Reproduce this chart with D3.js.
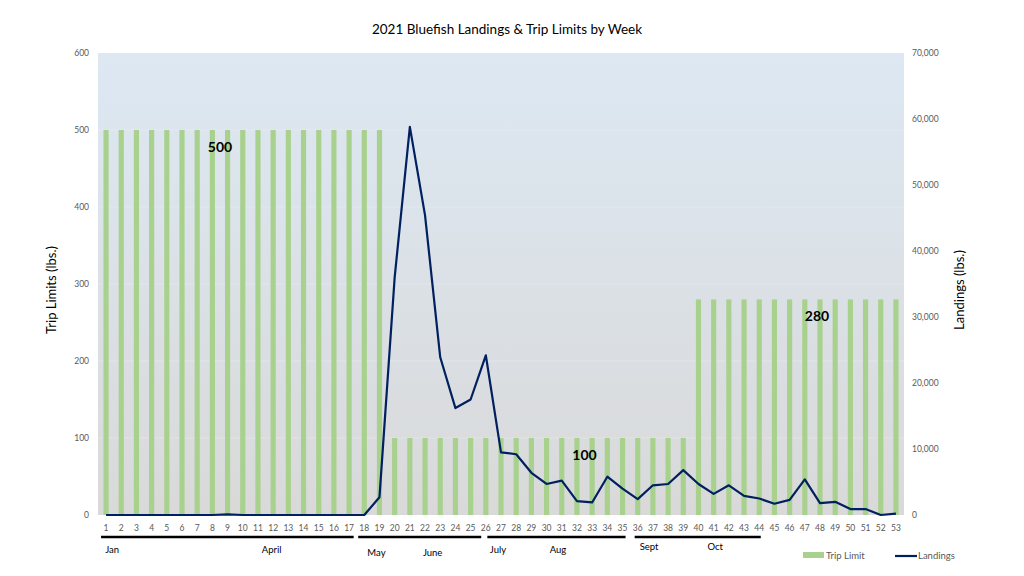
<!DOCTYPE html>
<html><head><meta charset="utf-8">
<script src="https://cdn.jsdelivr.net/npm/d3@7"></script>
<style>body{margin:0;background:#fff}svg{display:block;font-family:Lato,"Open Sans",sans-serif}</style>
</head><body><svg id="c" width="1024" height="576"></svg>
<script>
const weeks = d3.range(1, 54);
const tripLimit = [500,500,500,500,500,500,500,500,500,500,500,500,500,500,500,500,500,500,500,
  100,100,100,100,100,100,100,100,100,100,100,100,100,100,100,100,100,100,100,100,
  280,280,280,280,280,280,280,280,280,280,280,280,280,280];
const landings = [0,0,0,0,0,0,0,0,100,0,0,0,0,0,0,0,0,0,2700,
  36000,58800,45400,23900,16200,17500,24200,9500,9200,6400,4700,5200,2100,1900,5800,4000,2400,4500,4700,6800,
  4700,3200,4500,2900,2500,1700,2300,5400,1800,2000,900,900,0,200];
const leftTicks = [0,100,200,300,400,500,600];
const rightTicks = [0,10000,20000,30000,40000,50000,60000,70000];
const annotations = [{week:8.5, value:500, text:"500"},{week:32.5, value:100, text:"100"},{week:47.8, value:280, text:"280"}];
const monthLabels = ["Jan","April","May","June","July","Aug","Sept","Oct"];
const monthWeeks = [1.4,11.9,18.8,22.5,26.8,30.75,36.75,41.1];
const monthRows = [0,0,1,1,0,0,-1,-1];
const monthBars = [[0.67,17.3],[17.6,25.7],[26.1,35.2],[35.8,44.1]];

const svg = d3.select("#c");
const L=98,R=904,T=53,B=515;
const x = d3.scaleBand().domain(weeks).range([L,R]).paddingInner(0.66).paddingOuter(0.36);
const yL = d3.scaleLinear().domain([0,600]).range([B,T]);
const yR = d3.scaleLinear().domain([0,70000]).range([B,T]);
const cx = w => x(w)+x.bandwidth()/2;
const xc = d3.scaleLinear().domain([1,53]).range([cx(1),cx(53)]);

const defs = svg.append("defs");
const g = defs.append("linearGradient").attr("id","bg").attr("x1",0).attr("x2",0).attr("y1",0).attr("y2",1);
g.append("stop").attr("offset","0%").attr("stop-color","#dde8f3");
g.append("stop").attr("offset","100%").attr("stop-color","#d9d9d9");
svg.append("rect").attr("x",L).attr("y",T).attr("width",R-L).attr("height",B-T).attr("fill","url(#bg)");

// gridlines
svg.append("g").selectAll("line").data(leftTicks.slice(1,-1)).join("line")
  .attr("x1",L).attr("x2",R).attr("y1",d=>yL(d)).attr("y2",d=>yL(d))
  .attr("stroke","#e8eef5").attr("stroke-width",0.8).attr("opacity",0.7);

// bars
svg.append("g").selectAll("rect").data(weeks).join("rect")
  .attr("x",d=>x(d)).attr("width",x.bandwidth())
  .attr("y",(d,i)=>yL(tripLimit[i])).attr("height",(d,i)=>B-yL(tripLimit[i]))
  .attr("fill","#a9d18e");

// line
svg.append("path").datum(weeks).attr("fill","none").attr("stroke","#002060").attr("stroke-width",2.2)
  .attr("stroke-linejoin","round")
  .attr("d", d3.line().x(d=>cx(d)).y((d,i)=>yR(landings[i])));

// axes ticks text
const tickColor="#595959";
svg.append("g").selectAll("text").data(leftTicks).join("text")
  .attr("x",L-9).attr("y",d=>yL(d)+3).attr("text-anchor","end").attr("font-size",8.5).attr("fill",tickColor).text(d=>d);
svg.append("g").selectAll("text").data(rightTicks).join("text")
  .attr("x",R+8).attr("y",d=>yR(d)+3).attr("text-anchor","start").attr("font-size",8.5).attr("fill",tickColor).text(d=>d3.format(",")(d));
svg.append("g").selectAll("text").data(weeks).join("text")
  .attr("x",d=>cx(d)).attr("y",B+16).attr("text-anchor","middle").attr("font-size",8.5).attr("fill",tickColor).text(d=>d);

// axis titles
svg.append("text").attr("transform",`translate(56,290) rotate(-90)`).attr("text-anchor","middle")
  .attr("font-size",13).attr("fill","#000").text("Trip Limits (lbs.)");
svg.append("text").attr("transform",`translate(964,290) rotate(-90)`).attr("text-anchor","middle")
  .attr("font-size",13).attr("fill","#000").text("Landings (lbs.)");

// title
svg.append("text").attr("x",507).attr("y",34).attr("text-anchor","middle").attr("font-size",13.5).attr("fill","#000")
  .text("2021 Bluefish Landings & Trip Limits by Week");

// annotations
svg.append("g").selectAll("text").data(annotations).join("text")
  .attr("x",d=>xc(d.week)).attr("y",d=>yL(d.value)+22).attr("text-anchor","middle")
  .attr("font-size",14).attr("font-weight","bold").attr("fill","#000").text(d=>d.text);

// month underlines
svg.append("g").selectAll("line").data(monthBars).join("line")
  .attr("x1",d=>xc(d[0])).attr("x2",d=>xc(d[1])).attr("y1",537).attr("y2",537)
  .attr("stroke","#000").attr("stroke-width",2.5);
svg.append("g").selectAll("text").data(monthLabels).join("text")
  .attr("x",(d,i)=>xc(monthWeeks[i])).attr("y",(d,i)=>553+monthRows[i]*3).attr("text-anchor","middle")
  .attr("font-size",9.5).attr("fill","#000").text(d=>d);

// legend
svg.append("rect").attr("x",803).attr("y",552).attr("width",21).attr("height",6).attr("fill","#a9d18e");
svg.append("text").attr("x",826).attr("y",559).attr("font-size",9.5).attr("fill",tickColor).text("Trip Limit");
svg.append("line").attr("x1",895).attr("x2",917).attr("y1",556).attr("y2",556).attr("stroke","#002060").attr("stroke-width",2.2);
svg.append("text").attr("x",918).attr("y",559).attr("font-size",9.5).attr("fill",tickColor).text("Landings");
</script></body></html>
